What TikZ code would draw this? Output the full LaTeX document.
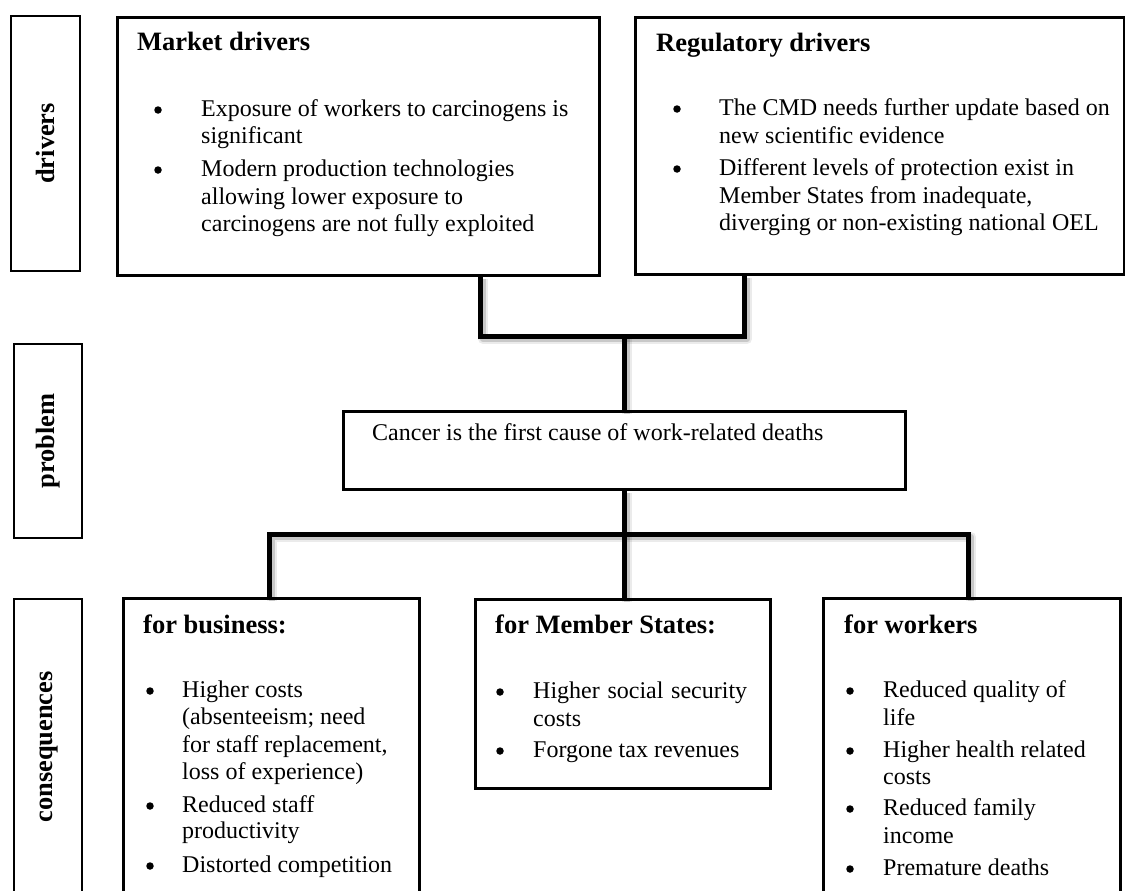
\documentclass[tikz,border=0pt]{standalone}
\usepackage{fontspec}
\setmainfont{Liberation Serif}
\begin{document}
\begin{tikzpicture}[x=1pt,y=-1pt,
  bx/.style={draw, line width=1.8pt, inner sep=0pt, anchor=north west},
  txt/.style={anchor=base west, inner sep=0pt, font=\fontsize{24}{28}\selectfont},
  bul/.style={circle, fill=black, inner sep=0pt, minimum size=7.5pt, yshift=6pt},
  hd/.style={anchor=base west, inner sep=0pt, font=\fontsize{26.5}{30}\selectfont\bfseries},
  lbl/.style={rotate=90, inner sep=0pt, font=\fontsize{26.4}{30}\selectfont\bfseries},
  conn/.style={line width=5pt, line join=miter},
  shda/.style={line width=10pt, black, opacity=0.08, line join=round,
    transform canvas={shift={(3pt,-3pt)}}},
  shdb/.style={line width=6pt, black, opacity=0.15, line join=round,
    transform canvas={shift={(3pt,-3pt)}}}
]
\useasboundingbox (0,0) rectangle (1125,891);
\clip (0,0) rectangle (1125,891);

% side label boxes
\node[bx, minimum width=69pt, minimum height=255pt] (ldrv) at (10,15) {};
\node[lbl] (ldrvt) at (ldrv.center) {drivers};
\node[bx, minimum width=68pt, minimum height=194pt] (lprob) at (13,343) {};
\node[lbl] (lprobt) at (lprob.center) {problem};
\node[bx, minimum width=68pt, minimum height=300pt] (lcons) at (13,598) {};
\node[lbl] (lconst) at (49,747) {consequences};

% main boxes
\node[bx, minimum width=481pt, minimum height=257pt] (market) at (117,17) {};
\node[bx, minimum width=488pt, minimum height=256pt] (reg) at (635,17) {};
\node[bx, minimum width=561pt, minimum height=77pt] (cancer) at (343,411) {};
\node[bx, minimum width=295pt, minimum height=310pt] (bus) at (123,598) {};
\node[bx, minimum width=294pt, minimum height=188pt] (mem) at (475,599) {};
\node[bx, minimum width=296pt, minimum height=310pt] (wrk) at (823,598) {};

% junction coordinates
\coordinate (cL) at (480,336);
\coordinate (cR) at (744,336);
\coordinate (bL) at (269,534);
\coordinate (bR) at (968,534);

% soft shadows
\foreach \s in {shda,shdb}{
  \draw[\s] (cL |- market.south) -- (cL) -- (cR) -- (cR |- reg.south);
  \draw[\s] (cancer.north |- cL) -- (cancer.north);
  \draw[\s] (bL |- bus.north) -- (bL) -- (bR) -- (bR |- wrk.north);
  \draw[\s] (cancer.south) -- (cancer.south |- mem.north);
}

% connectors
\draw[conn] (cL |- market.south) -- (cL) -- (cR) -- (cR |- reg.south);
\draw[conn] (cancer.north |- cL) -- (cancer.north);
\draw[conn] (bL |- bus.north) -- (bL) -- (bR) -- (bR |- wrk.north);
\draw[conn] (cancer.south) -- (cancer.south |- mem.north);

% box borders over shadows
\draw[line width=1.8pt] (market.north west) rectangle (market.south east);
\draw[line width=1.8pt] (reg.north west) rectangle (reg.south east);
\draw[line width=1.8pt] (cancer.north west) rectangle (cancer.south east);
\draw[line width=1.8pt] (bus.north west) rectangle (bus.south east);
\draw[line width=1.8pt] (mem.north west) rectangle (mem.south east);
\draw[line width=1.8pt] (wrk.north west) rectangle (wrk.south east);

% Market drivers
\node[hd] (mh) at (137,51) {Market drivers};
\node[bul] (mb1) at (158,116) {};
\node[txt] (m1a) at (201,116) {Exposure of workers to carcinogens is};
\node[txt] (m1b) at (201,143) {significant};
\node[bul] (mb2) at (158,176) {};
\node[txt] (m2a) at (201,176) {Modern production technologies};
\node[txt] (m2b) at (201,204) {allowing lower exposure to};
\node[txt] (m2c) at (201,231) {carcinogens are not fully exploited};

% Regulatory drivers
\node[hd] (rh) at (656,52) {Regulatory drivers};
\node[bul] (rb1) at (677,115) {};
\node[txt] (r1a) at (719,115) {The CMD needs further update based on};
\node[txt] (r1b) at (719,143) {new scientific evidence};
\node[bul] (rb2) at (677,175) {};
\node[txt] (r2a) at (719,175) {Different levels of protection exist in};
\node[txt] (r2b) at (719,203) {Member States from inadequate,};
\node[txt] (r2c) at (719,230) {diverging or non-existing national OEL};

% problem
\node[txt] (ct) at (372,440) {Cancer is the first cause of work-related deaths};

% for business
\node[hd] (bh) at (143,633) {for business:};
\node[bul] (bb1) at (150,697) {};
\node[txt] (b1a) at (182,697) {Higher costs};
\node[txt] (b1b) at (182,724) {(absenteeism; need};
\node[txt] (b1c) at (182,752) {for staff replacement,};
\node[txt] (b1d) at (182,779) {loss of experience)};
\node[bul] (bb2) at (150,812) {};
\node[txt] (b2a) at (182,812) {Reduced staff};
\node[txt] (b2b) at (182,838) {productivity};
\node[bul] (bb3) at (150,872) {};
\node[txt] (b3a) at (182,872) {Distorted competition};

% for Member States
\node[hd] (sh) at (495,633) {for Member States:};
\node[bul] (sb1) at (500,698) {};
\node[txt] (s1a) at (533,698) {\makebox[214pt][s]{Higher social security}};
\node[txt] (s1b) at (533,726) {costs};
\node[bul] (sb2) at (500,757) {};
\node[txt] (s2a) at (533,757) {Forgone tax revenues};

% for workers
\node[hd] (wh) at (844,633) {for workers};
\node[bul] (wb1) at (850,697) {};
\node[txt] (w1a) at (883,697) {Reduced quality of};
\node[txt] (w1b) at (883,725) {life};
\node[bul] (wb2) at (850,757) {};
\node[txt] (w2a) at (883,757) {Higher health related};
\node[txt] (w2b) at (883,784) {costs};
\node[bul] (wb3) at (850,815) {};
\node[txt] (w3a) at (883,815) {Reduced family};
\node[txt] (w3b) at (883,843) {income};
\node[bul] (wb4) at (850,875) {};
\node[txt] (w4a) at (883,875) {Premature deaths};
\end{tikzpicture}
\end{document}
